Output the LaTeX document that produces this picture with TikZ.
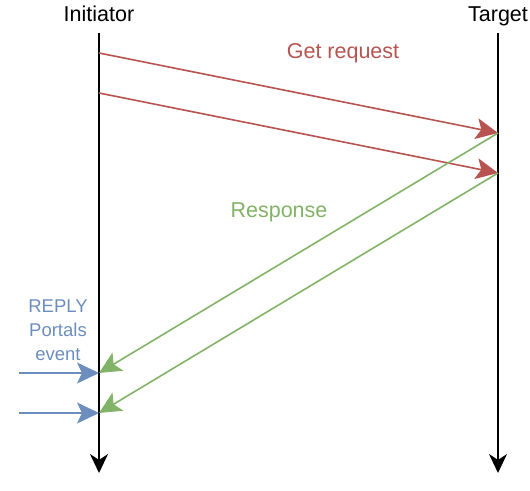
\documentclass[tikz,border=0pt]{standalone}
\usepackage{fontspec}
\setmainfont{Liberation Sans}
\usetikzlibrary{arrows.meta}
\definecolor{dred}{HTML}{B85450}
\definecolor{dgreen}{HTML}{82B366}
\definecolor{dblue}{HTML}{6C8EBF}
\begin{document}
\begin{tikzpicture}[x=1pt,y=-1pt,
  tip/.style={-{Stealth[length=22pt,width=21pt,inset=5pt]}},
  life/.style={draw=black,line width=2.4pt,-{Stealth[length=19pt,width=18pt,inset=6pt]}},
  msg/.style={line width=1.6pt,tip},
  lbl/.style={font=\fontsize{21.5pt}{24pt}\selectfont,inner sep=0pt}]
\useasboundingbox (0,0) rectangle (530,490);
% lifelines
\coordinate (i0) at (99,33);
\coordinate (i1) at (99,473);
\coordinate (t0) at (498,33);
\coordinate (t1) at (498,473);
\node[lbl,anchor=base] (ini) at (99,21) {Initiator};
\node[lbl,anchor=base] (tgt) at (498,21) {Target};
\draw[life] (i0) -- (i1);
\draw[life] (t0) -- (t1);
% message points
\coordinate (a1) at (99,53);
\coordinate (a2) at (99,93);
\coordinate (b1) at (498,133);
\coordinate (b2) at (498,173);
\coordinate (c1) at (99,373);
\coordinate (c2) at (99,413);
\coordinate (e1) at (19,373);
\coordinate (e2) at (19,413);
\draw[msg,dred] (a1) -- (b1);
\draw[msg,dred] (a2) -- (b2);
\draw[msg,dgreen] (b1) -- (c1);
\draw[msg,dgreen] (b2) -- (c2);
\draw[msg,dblue] (e1) -- (c1);
\draw[msg,dblue] (e2) -- (c2);
\node[lbl,anchor=base,text=dred] (get) at (343,58.7) {Get request};
\node[lbl,anchor=base,text=dgreen] (resp) at (279,217.3) {Response};
\node[anchor=base,inner sep=0pt,text=dblue,align=center,font=\fontsize{18.5pt}{24pt}\selectfont] (rep) at (58,360) {REPLY\\Portals\\event};
\end{tikzpicture}
\end{document}
